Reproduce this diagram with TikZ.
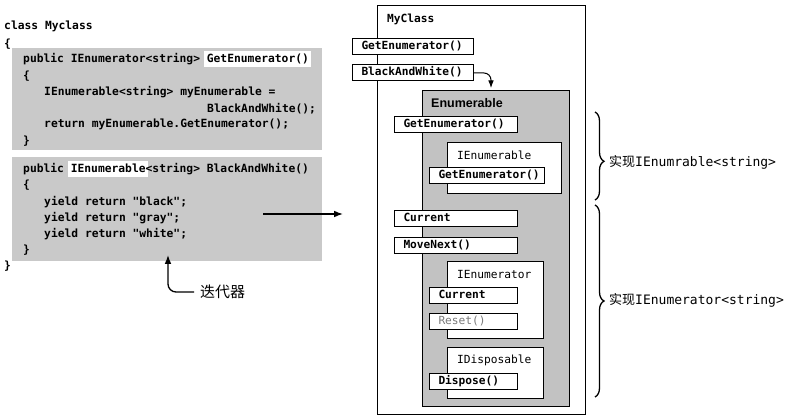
\documentclass[tikz,border=0pt]{standalone}
\usepackage{fontspec}
\setsansfont{Liberation Sans}
\newfontfamily\codefont{DejaVu Sans Mono}
\newfontfamily\cjk{Noto Sans CJK SC}
\usetikzlibrary{positioning,arrows.meta,decorations.pathreplacing}

\definecolor{codegray}{HTML}{C9C9C9}
\definecolor{enumgray}{HTML}{C2C2C2}
\definecolor{resetgray}{HTML}{7A7A7A}

% white marker behind a word of code
\newcommand{\codehl}[1]{{\setlength{\fboxsep}{2.5pt}\hspace*{-2.5pt}\colorbox{white}{\rule[-2pt]{0pt}{10.5pt}#1}\hspace*{-2.5pt}}}

\begin{document}
\begin{tikzpicture}[
    x=1pt, y=-1pt,
    >=Latex,
    flow/.style={->, line width=1.3pt, draw=black},
    codebox/.style={fill=codegray, anchor=north west, inner sep=0pt},
    codeline/.style={anchor=base west, inner sep=0pt, font=\codefont\bfseries\fontsize{11.3}{13}\selectfont},
    member/.style={
        draw=black, fill=white, line width=1pt, anchor=west, align=left,
        inner xsep=9pt, inner ysep=0pt, text width=#1, minimum height=16pt,
        text height=8.5pt, text depth=2.5pt,
        font=\codefont\bfseries\fontsize{11.2}{13}\selectfont
    },
    ifbox/.style={draw=black, fill=white, line width=1pt, anchor=north west, inner sep=0pt},
    iftitle/.style={anchor=base west, inner sep=0pt, font=\codefont\fontsize{11.2}{13}\selectfont},
    sidebrace/.style={decorate, decoration={brace, amplitude=9pt, aspect=#1}, line width=1.3pt},
    sidenote/.style={anchor=west, inner sep=0pt, font=\codefont\fontsize{13}{15}\selectfont}
]
\useasboundingbox[fill=white] (0,0) rectangle (790,420);

% code on the left
\node[codeline] (cls) at (4,30) {class Myclass};
\node[codeline] (clsopen) at (4,47.5) {\{};

\node[codebox, minimum width=310, minimum height=102] (getbox) at (12,48) {};
\node[codeline] (g1) at (23,62.5) {public IEnumerator<string> \codehl{GetEnumerator()}};
\node[codeline] (g2) at (23,79) {\{};
\node[codeline] (g3) at (44,95.5) {IEnumerable<string> myEnumerable =};
\node[codeline] (g4) at (207,112) {BlackAndWhite();};
\node[codeline] (g5) at (44,128) {return myEnumerable.GetEnumerator();};
\node[codeline] (g6) at (23,144.5) {\}};

\node[codebox, minimum width=310, minimum height=104] (bawbox) at (12,157) {};
\node[codeline] (b1) at (23,172.5) {public \codehl{IEnumerable}<string> BlackAndWhite()};
\node[codeline] (b2) at (23,188.5) {\{};
\node[codeline] (b3) at (44,205) {yield return "black";};
\node[codeline] (b4) at (44,221) {yield return "gray";};
\node[codeline] (b5) at (44,237.5) {yield return "white";};
\node[codeline] (b6) at (23,253.5) {\}};

\node[codeline] (clsclose) at (4,269) {\}};

\node[anchor=west, inner xsep=6pt, inner ysep=0pt, font=\cjk\fontsize{15}{17}\selectfont] (itlabel) at (194,292) {迭代器};
\coordinate (itpoint) at (168,255);
\draw[flow, rounded corners=8pt] (itlabel.west) -| (itpoint);

\coordinate (callsrc) at (263,214);
\coordinate (calldst) at (343,214);
\draw[flow] (callsrc) -- (calldst);

% object on the right
\node[ifbox, minimum width=208, minimum height=409] (myclass) at (377,5) {};
\node[iftitle, font=\codefont\bfseries\fontsize{11.2}{13}\selectfont] (myclasstitle) at (387,22.5) {MyClass};
\node[member=103] (mGet) at (352,46.5) {GetEnumerator()};
\node[member=103] (mBaw) at (352,73) {BlackAndWhite()};

\node[draw=black, fill=enumgray, line width=1pt, anchor=north west, inner sep=0pt,
      minimum width=147, minimum height=316] (enum) at (422,90) {};
\node[anchor=base west, inner sep=0pt, font=\sffamily\bfseries\fontsize{12.5}{14}\selectfont] (enumtitle) at (431,107) {Enumerable};
\coordinate (enumin) at (491,88);
\draw[flow, line width=1pt, rounded corners=7pt] (mBaw.east) -| (enumin);

\node[member=105] (eGet) at (394,124.5) {GetEnumerator()};
\node[ifbox, minimum width=114, minimum height=51] (ienumerable) at (447,142) {};
\node[iftitle] (ienumerabletitle) at (457,159) {IEnumerable};
\node[member=97] (ieGet) at (429,175) {GetEnumerator()};

\node[member=105] (eCur) at (394,218.5) {Current};
\node[member=105] (eMove) at (394,245) {MoveNext()};
\node[ifbox, minimum width=96, minimum height=77] (ienumerator) at (447,261) {};
\node[iftitle] (ienumeratortitle) at (457,278) {IEnumerator};
\node[member=70] (ienCur) at (429,295.5) {Current};
\node[member=70, text=resetgray, font=\codefont\fontsize{11.2}{13}\selectfont] (ienReset) at (429,321) {Reset()};
\node[ifbox, minimum width=96, minimum height=51] (idisposable) at (447,347) {};
\node[iftitle] (idisposabletitle) at (457,363) {IDisposable};
\node[member=70] (idDisp) at (429,381.5) {Dispose()};

% braces
\coordinate (br1top) at (595,112);
\coordinate (br1bot) at (595,200);
\draw[sidebrace=0.56] (br1top) -- (br1bot);
\node[sidenote] (note1) at (609,162) {{\cjk 实现}IEnumrable<string>};
\coordinate (br2top) at (595,205);
\coordinate (br2bot) at (595,397);
\draw[sidebrace=0.5] (br2top) -- (br2bot);
\node[sidenote] (note2) at (609,300) {{\cjk 实现}IEnumerator<string>};
\end{tikzpicture}
\end{document}
